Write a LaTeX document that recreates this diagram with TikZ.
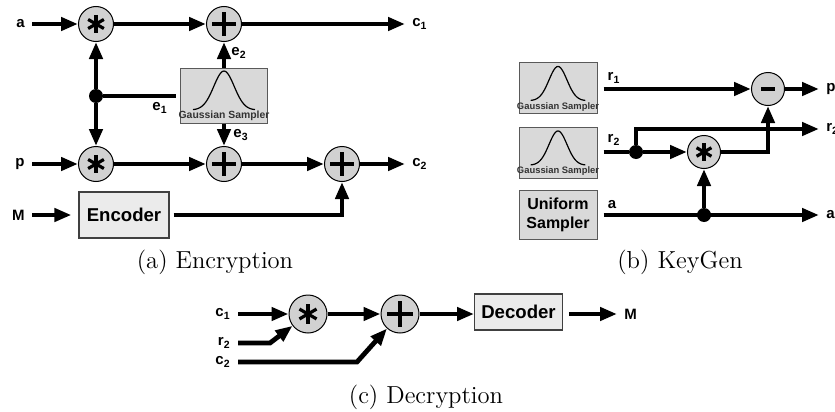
\documentclass[tikz,border=0pt]{standalone}
\usepackage{fontspec}
\newfontfamily\hv{Liberation Sans}
\usetikzlibrary{arrows.meta,calc}

\newcommand{\bell}[2]{%
  \draw[line width=0.6pt, shift={(#1.center)}, scale=#2]
    plot[smooth, domain=-31:31, samples=41] (\x, {14.5-39*exp(-\x*\x/208)});
}

\tikzset{
  sig/.style={line width=2.4pt, -{Triangle[length=8.5pt,width=6.5pt]}},
  wire/.style={line width=2.4pt},
  op/.style={circle, draw, line width=0.5pt, fill=black!18, minimum size=#1, inner sep=0pt},
  op/.default=17.5pt,
  mul/.style={op=#1, path picture={
      \foreach \ang in {90,30,150}
        \draw[line width=1.6pt]
          ($(path picture bounding box.center)!0.52!\ang:(path picture bounding box.east)$) --
          ($(path picture bounding box.center)!-0.52!\ang:(path picture bounding box.east)$);}},
  mul/.default=17.5pt,
  add/.style={op=#1, path picture={
      \draw[line width=1.7pt]
        ($(path picture bounding box.center)!0.68!(path picture bounding box.east)$) --
        ($(path picture bounding box.center)!-0.68!(path picture bounding box.east)$)
        ($(path picture bounding box.center)!0.68!(path picture bounding box.north)$) --
        ($(path picture bounding box.center)!-0.68!(path picture bounding box.north)$);}},
  add/.default=17.5pt,
  sub/.style={op=#1, path picture={
      \draw[line width=2pt]
        ($(path picture bounding box.center)!0.4!(path picture bounding box.east)$) --
        ($(path picture bounding box.center)!-0.4!(path picture bounding box.east)$);}},
  sub/.default=17.5pt,
  gbox/.style={draw=black!65, line width=0.5pt, fill=black!15, inner sep=0pt},
  gtext/.style={font=\hv\bfseries\fontsize{#1}{5}\selectfont, text=black!80, inner sep=0pt},
  gtext/.default=5.2pt,
  ebox/.style={draw=black!75, line width=0.6pt, fill=black!8, font=\hv\bfseries\fontsize{9.3}{11}\selectfont},
  dot/.style={circle, fill, minimum size=7pt, inner sep=0pt},
  lbl/.style={font=\hv\bfseries\fontsize{7.5}{9}\selectfont, inner xsep=3.5pt, inner ysep=1pt},
  captext/.style={font=\fontsize{12.3}{14}\selectfont}
}

\begin{document}
\begin{tikzpicture}[x=0.5pt, y=-0.5pt]
\useasboundingbox (0,0) rectangle (835,412);

% (a) Encryption
\node[mul] (amul1) at (96,24) {};
\node[add] (aadd1) at (224,24) {};
\node[gbox, minimum width=43.5pt, minimum height=27.5pt] (agauss) at (224,95.5) {};
\bell{agauss}{1}
\node[gtext] at (224,116) {Gaussian Sampler};
\node[dot] (adot) at (96,96) {};
\node[mul] (amul2) at (96,164) {};
\node[add] (aadd2) at (224,164) {};
\node[add] (aadd3) at (342,164) {};
\node[ebox, minimum width=45pt, minimum height=23pt] (aenc) at (124,215) {Encoder};

\node[lbl, anchor=east] (la) at (32,24) {a};
\node[lbl, anchor=east] (lp) at (32,164) {p};
\node[lbl, anchor=east] (lm) at (32,215) {M};
\node[lbl, anchor=west] (lc1) at (405,24) {c\textsubscript{1}};
\node[lbl, anchor=west] (lc2) at (405,164) {c\textsubscript{2}};
\node[lbl] (le2) at (239,53) {e\textsubscript{2}};
\node[lbl] (le1) at (160,108) {e\textsubscript{1}};
\node[lbl] (le3) at (241,135) {e\textsubscript{3}};

\draw[sig] (la.east) -- (amul1);
\draw[sig] (amul1) -- (aadd1);
\draw[sig] (aadd1) -- (aadd1 -| lc1.west);
\draw[sig] (agauss) -- (aadd1);
\draw[wire, shorten >=2pt] (adot) -- (adot -| agauss.west);
\draw[sig] (adot) -- (amul1);
\draw[sig] (adot) -- (amul2);
\draw[sig] (lp.east) -- (amul2);
\draw[sig] (amul2) -- (aadd2);
\draw[sig] (agauss) -- (aadd2);
\draw[sig] (aadd2) -- (aadd3);
\draw[sig] (aadd3) -- (aadd3 -| lc2.west);
\draw[sig, shorten >=3.5pt] (lm.east) -- (aenc);
\draw[sig, shorten <=2pt] (aenc) -| (aadd3);

% (b) KeyGen
\node[gbox, minimum width=39pt, minimum height=25.5pt] (bgauss1) at (558,88) {};
\bell{bgauss1}{0.88}
\node[gtext=4.7pt] at (558,107) {Gaussian Sampler};
\node[gbox, minimum width=39pt, minimum height=25.5pt] (bgauss2) at (558,152.5) {};
\bell{bgauss2}{0.88}
\node[gtext=4.7pt] at (558,171.5) {Gaussian Sampler};
\node[gbox, minimum width=39pt, minimum height=24.5pt, align=center,
      font=\hv\bfseries\fontsize{8}{9.5}\selectfont] (bunif) at (558,214.5) {Uniform\\Sampler};
\node[sub=16.5pt] (bsub) at (768,89) {};
\node[mul=16.5pt] (bmul) at (704,152) {};
\node[dot] (bdot1) at (636,152) {};
\node[dot] (bdot2) at (704,215) {};

\node[lbl] (lr1) at (614,78) {r\textsubscript{1}};
\node[lbl] (lr2) at (614,140) {r\textsubscript{2}};
\node[lbl] (lba) at (612,205) {a};
\node[lbl, anchor=west] (bp) at (819,89) {p};
\node[lbl, anchor=west] (br) at (819,129) {r\textsubscript{2}};
\node[lbl, anchor=west] (ba) at (819,215) {a};

\draw[sig, shorten <=3pt] (bgauss1.east |- bsub) -- (bsub);
\draw[sig] (bsub) -- (bp.west);
\draw[wire, shorten <=3pt] (bgauss2.east |- bdot1) -- (bdot1);
\draw[sig] (bdot1) -- (bmul);
\draw[sig] (bdot1) |- (br.west);
\draw[sig] (bmul) -| (bsub);
\draw[sig, shorten <=3pt] (bunif.east |- bdot2) -- (ba.west);
\draw[sig] (bdot2) -- (bmul);

% (c) Decryption
\node[mul=19pt] (cmul) at (308,314) {};
\node[add=19pt] (cadd) at (400,314) {};
\node[ebox, minimum width=43.5pt, minimum height=18pt] (cdec) at (518.5,312) {Decoder};
\node[lbl, anchor=east] (clc1) at (238,314) {c\textsubscript{1}};
\node[lbl, anchor=east] (clr2) at (238,343) {r\textsubscript{2}};
\node[lbl, anchor=east] (clc2) at (238,362) {c\textsubscript{2}};
\node[lbl, anchor=west] (cm) at (617,314) {M};
\coordinate (cbend1) at (270,343);
\coordinate (cbend2) at (357,362);

\draw[sig] (clc1.east) -- (cmul);
\draw[sig] (clr2.east) -- (cbend1) -- (cmul);
\draw[sig] (clc2.east) -- (cbend2) -- (cadd);
\draw[sig] (cmul) -- (cadd);
\draw[sig] (cadd) -- (cadd -| cdec.west);
\draw[sig, shorten <=3pt] (cdec.east |- cadd) -- (cm.west);

\node[captext] (capa) at (215,262) {(a) Encryption};
\node[captext] (capb) at (680,262) {(b) KeyGen};
\node[captext] (capc) at (426,397) {(c) Decryption};
\end{tikzpicture}
\end{document}
